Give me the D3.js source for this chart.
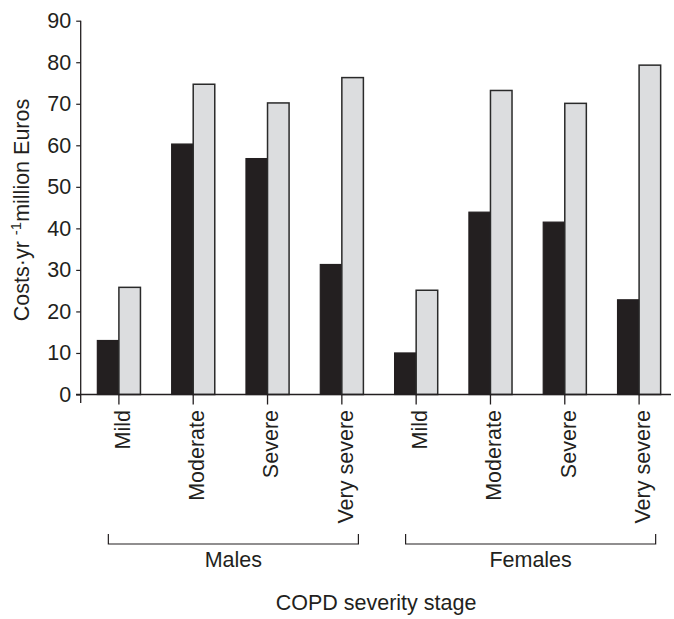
<!DOCTYPE html>
<html><head><meta charset="utf-8">
<script src="https://cdn.jsdelivr.net/npm/d3@7"></script>
<style>body{margin:0;background:#fff;} svg{display:block;font-family:"Liberation Sans",Arial,sans-serif;}</style>
</head><body><svg id="c" width="674" height="619"></svg>
<script>
const categories = ["Mild","Moderate","Severe","Very severe","Mild","Moderate","Severe","Very severe"];
const groups = ["Males","Females"];
const seriesBlack = [13, 60.3, 56.8, 31.3, 10, 43.9, 41.5, 22.8];
const seriesGrey  = [25.8, 74.7, 70.2, 76.3, 25.1, 73.2, 70.1, 79.3];
const yTicks = [0,10,20,30,40,50,60,70,80,90];

const svg = d3.select("#c");
const FS = 21.5;
const x0 = 80.7, x1 = 671, yTop = 20.7, yBase = 394.5;
const keys = categories.map((c,i)=>i);
const x = d3.scaleBand().domain(keys).range([81, 677]).paddingInner(0.42).paddingOuter(0.22);
const y = d3.scaleLinear().domain([0,90]).range([yBase, yTop]);
const ink = "#231f20";

// bars
const bw = x.bandwidth()/2;
keys.forEach(i=>{
  svg.append("rect").attr("x", x(i)).attr("y", y(seriesBlack[i])).attr("width", bw).attr("height", yBase - y(seriesBlack[i]))
    .attr("fill", ink).attr("stroke", ink).attr("stroke-width", 1.2);
  svg.append("rect").attr("x", x(i)+bw).attr("y", y(seriesGrey[i])).attr("width", bw).attr("height", yBase - y(seriesGrey[i]))
    .attr("fill", "#dcdddf").attr("stroke", "#2a2a2a").attr("stroke-width", 1.5);
});

// y axis
const ya = svg.append("g").attr("transform", `translate(${x0},0)`)
  .call(d3.axisLeft(y).tickValues(yTicks).tickSize(4.5).tickPadding(5).tickSizeOuter(0));
ya.select(".domain").remove();
ya.selectAll("line").attr("stroke", ink).attr("stroke-width", 1.2);
ya.selectAll("text").attr("font-size", FS).attr("fill", ink).attr("font-family", "Liberation Sans, Arial, sans-serif");
svg.append("line").attr("x1", x0).attr("x2", x0).attr("y1", yTop).attr("y2", yBase + 8.5).attr("stroke", ink).attr("stroke-width", 1.3);

// x axis
const xa = svg.append("g").attr("transform", `translate(0,${yBase})`)
  .call(d3.axisBottom(x).tickSize(10).tickFormat(i => categories[i]).tickSizeOuter(0));
xa.select(".domain").remove();
svg.append("line").attr("x1", 76).attr("x2", x1).attr("y1", yBase).attr("y2", yBase).attr("stroke", ink).attr("stroke-width", 1.3);
xa.selectAll("line").attr("stroke", ink).attr("stroke-width", 1.3);
xa.selectAll("text").attr("font-size", FS).attr("fill", ink).attr("font-family", "Liberation Sans, Arial, sans-serif")
  .attr("transform", "rotate(-90)").attr("text-anchor", "end").attr("x", -15.5).attr("y", 0).attr("dy", "0.5em");

// group brackets
const bY = 544, bH = 10;
groups.forEach((g, gi)=>{
  const a = x(gi*4) + 11, b = x(gi*4+3) + x.bandwidth() - 5;
  svg.append("path").attr("d", `M${a},${bY-bH}V${bY}H${b}V${bY-bH}`).attr("fill","none").attr("stroke", ink).attr("stroke-width", 1.2);
  svg.append("text").attr("x", (a+b)/2).attr("y", bY+23).attr("text-anchor","middle").attr("font-size",FS).attr("fill", ink).text(g);
});

// axis titles
svg.append("text").attr("x", 376).attr("y", 610).attr("text-anchor","middle").attr("font-size",FS).attr("fill", ink).text("COPD severity stage");
const yl = svg.append("text").attr("transform", "translate(29,210) rotate(-90)").attr("text-anchor","middle").attr("font-size",FS).attr("fill", ink);
yl.append("tspan").text("Costs·yr ");
yl.append("tspan").attr("font-size", 15).attr("dy", -8).text("-1");
yl.append("tspan").attr("dy", 8).text("million Euros");
</script></body></html>
